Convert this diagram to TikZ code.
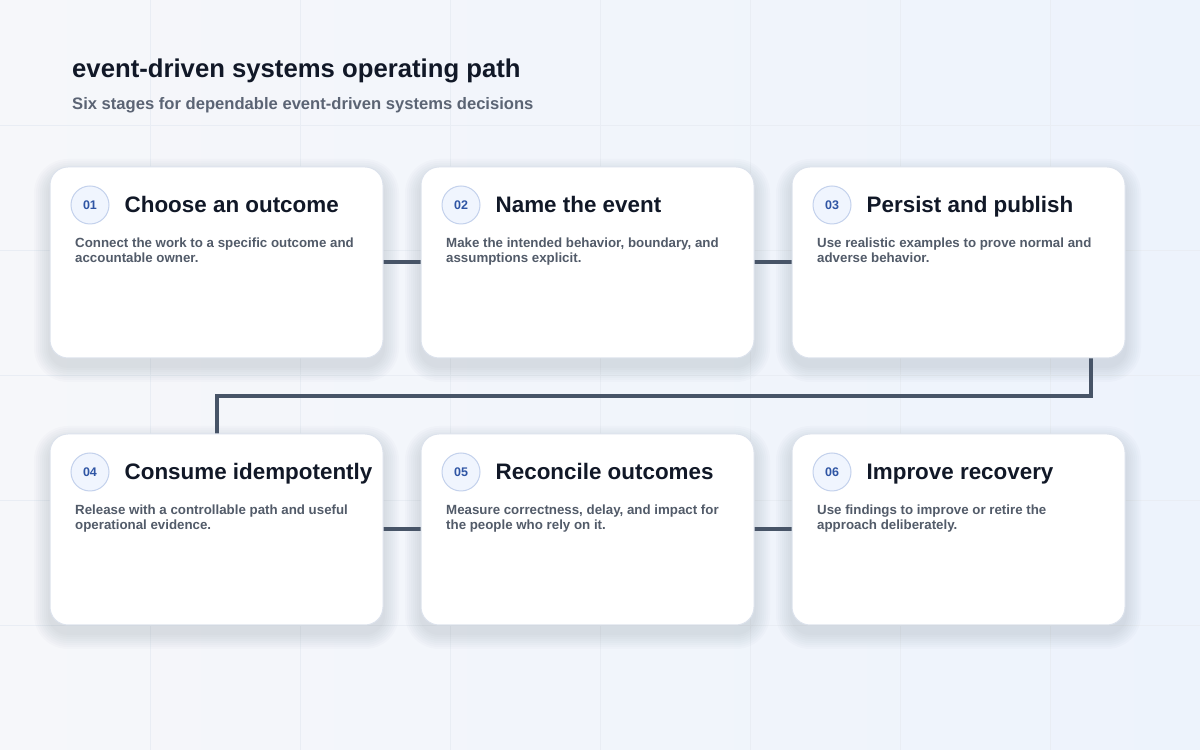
\documentclass[tikz,border=0pt]{standalone}
\usepackage{fontspec}
\setmainfont{Liberation Sans}
\usetikzlibrary{positioning, calc}
\pgfdeclarelayer{background}
\pgfsetlayers{background,main}
\definecolor{bgTop}{HTML}{F6F7FA}
\definecolor{bgBottom}{HTML}{EDF3FC}
\definecolor{gridLine}{HTML}{E9EDF4}
\definecolor{ink}{HTML}{111827}
\definecolor{muted}{HTML}{5B6474}
\definecolor{bodyText}{HTML}{525B69}
\definecolor{cardLine}{HTML}{DCE2EC}
\definecolor{badgeFill}{HTML}{F0F5FE}
\definecolor{badgeLine}{HTML}{C3D1EC}
\definecolor{badgeText}{HTML}{2F55A4}
\definecolor{linkLine}{HTML}{475467}
\definecolor{shadowTone}{HTML}{24324F}
\newcommand{\Fsize}[2]{\fontsize{#1}{#2}\selectfont}
% badge, title and text of one stage card
\newcommand{\Stage}[4]{%
  \node[badge] (#1-num) at ($(#1.north west)+(40pt,-38pt)$) {#2};
  \node[stagetitle=#1-num] (#1-title) {#3};
  \node[stagetext, below right=71pt and 25pt of #1.north west] (#1-text) {#4};
}
\newcommand{\CardShadow}[1]{%
  \foreach \k [evaluate=\k as \e using 2*\k] in {1,...,8}
    \fill[shadowTone, opacity=0.016, rounded corners=18pt+\e pt]
      ($(#1.south west)+(-\e pt,-8pt-\e pt)$) rectangle ($(#1.north east)+(\e pt,-8pt+\e pt)$);
}
\tikzset{
    card/.style={rectangle, rounded corners=18pt, draw=cardLine, line width=1pt, fill=white,
      minimum width=333pt, minimum height=191pt, inner sep=0pt, outer sep=0pt},
    badge/.style={circle, draw=badgeLine, line width=1pt, fill=badgeFill, minimum size=38pt,
      inner sep=0pt, font=\bfseries\Fsize{12.5}{14}, text=badgeText},
    stagetitle/.style={inner sep=0pt, text height=20pt, text depth=4pt,
      font=\bfseries\Fsize{22.4}{26}, text=ink, right=15pt of #1},
    stagetext/.style={inner sep=0pt, align=left, font=\bfseries\Fsize{13.3}{15}, text=bodyText},
    link/.style={draw=linkLine, line width=4pt},
}
\begin{document}
\begin{tikzpicture}[x=1pt, y=1pt, node distance=38pt]
    \useasboundingbox (0,0) rectangle (1200,750);

    \node[anchor=base west, inner sep=0pt, font=\bfseries\Fsize{25.7}{30}, text=ink] (heading) at (72,672.5)
      {event-driven systems operating path};
    \node[anchor=base west, inner sep=0pt, font=\bfseries\Fsize{16.6}{20}, text=muted] (subheading) at (72,640)
      {Six stages for dependable event-driven systems decisions};

    \node[card] (c1) at (216.5,487.5) {};
    \node[card, right=of c1] (c2) {};
    \node[card, right=of c2] (c3) {};
    \node[card, below=76pt of c1] (c4) {};
    \node[card, right=of c4] (c5) {};
    \node[card, right=of c5] (c6) {};

    \Stage{c1}{01}{Choose an outcome}{Connect the work to a specific outcome and\\accountable owner.}
    \Stage{c2}{02}{Name the event}{Make the intended behavior, boundary, and\\assumptions explicit.}
    \Stage{c3}{03}{Persist and publish}{Use realistic examples to prove normal and\\adverse behavior.}
    \Stage{c4}{04}{Consume idempotently}{Release with a controllable path and useful\\operational evidence.}
    \Stage{c5}{05}{Reconcile outcomes}{Measure correctness, delay, and impact for\\the people who rely on it.}
    \Stage{c6}{06}{Improve recovery}{Use findings to improve or retire the\\approach deliberately.}

    \begin{pgfonlayer}{background}
      \shade[left color=bgTop, right color=bgBottom] (0,0) rectangle (1200,750);
      \foreach \gx in {150,300,...,1050}
        \draw[gridLine, line width=0.8pt] (\gx,0) -- (\gx,750);
      \foreach \gy in {125,250,...,625}
        \draw[gridLine, line width=0.8pt] (0,\gy) -- (1200,\gy);
      \CardShadow{c1}
      \CardShadow{c2}
      \CardShadow{c3}
      \CardShadow{c4}
      \CardShadow{c5}
      \CardShadow{c6}

      \draw[link] (c1) -- (c2);
      \draw[link] (c2) -- (c3);
      \coordinate (drop) at ($(c3.south east)+(-34pt,0)$);
      \draw[link] (drop) |- ($(c3.south)!0.5!(c6.north)$) -| (c4);
      \draw[link] (c4) -- (c5);
      \draw[link] (c5) -- (c6);
    \end{pgfonlayer}
\end{tikzpicture}
\end{document}
